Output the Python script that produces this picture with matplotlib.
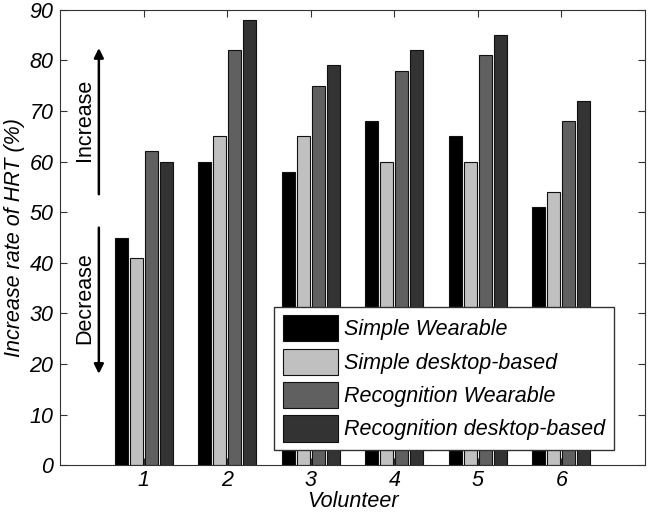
import matplotlib.pyplot as plt
import numpy as np

plt.rcParams['font.family'] = ['Liberation Sans', 'DejaVu Sans']

volunteers = [1, 2, 3, 4, 5, 6]
simple_wearable = [45, 60, 58, 68, 65, 51]
simple_desktop = [41, 65, 65, 60, 60, 54]
recog_wearable = [62, 82, 75, 78, 81, 68]
recog_desktop = [60, 88, 79, 82, 85, 72]

series = [simple_wearable, simple_desktop, recog_wearable, recog_desktop]
labels = ["Simple Wearable", "Simple desktop-based",
          "Recognition Wearable", "Recognition desktop-based"]
colors = ["#000000", "#c0c0c0", "#606060", "#333333"]

fs = 15.5

fig = plt.figure(figsize=(6.5, 5.18), dpi=100)
ax = fig.add_axes([0.093, 0.102, 0.899, 0.879])

x = np.array(volunteers)
width = 0.155
offsets = [-0.27, -0.09, 0.09, 0.27]
for vals, lab, col, off in zip(series, labels, colors, offsets):
    ax.bar(x + off, vals, width, color=col, edgecolor="#111111",
           linewidth=0.8, label=lab, zorder=2)

ax.set_xlim(0, 7)
ax.set_ylim(0, 90)
ax.set_xticks(volunteers)
ax.set_yticks(range(0, 91, 10))
ax.tick_params(direction="in", top=True, right=True, length=5,
               labelsize=fs, color="#333333")
ax.tick_params(axis="y", pad=5)
ax.tick_params(axis="x", pad=3.5)
for t in ax.get_xticklabels() + ax.get_yticklabels():
    t.set_fontstyle("italic")
for s in ax.spines.values():
    s.set_color("#333333")

ax.set_xlabel("Volunteer", fontsize=fs, style="italic", labelpad=0)
ax.set_ylabel("Increase rate of HRT (%)", fontsize=fs, style="italic", labelpad=3)

# increase / decrease arrows
ax.annotate("", xy=(0.46, 83), xytext=(0.46, 53),
            arrowprops=dict(arrowstyle="-|>", color="black", lw=1.8,
                            mutation_scale=14))
ax.annotate("", xy=(0.46, 17.5), xytext=(0.46, 47.5),
            arrowprops=dict(arrowstyle="-|>", color="black", lw=1.8,
                            mutation_scale=14))
ax.text(0.286, 68.3, "Increase", rotation=90, ha="center", va="center", fontsize=fs)
ax.text(0.286, 33, "Decrease", rotation=90, ha="center", va="center", fontsize=fs)

leg = ax.legend(loc="lower right", bbox_to_anchor=(0.947, 0.033),
                prop=dict(size=fs, style="italic"), handlelength=2.55,
                handleheight=1.5, fancybox=False, framealpha=1,
                edgecolor="#333333", borderpad=0.4, labelspacing=0.33,
                handletextpad=0.3, borderaxespad=0)
leg.get_frame().set_linewidth(1.0)

fig.savefig("out.png", dpi=100)
